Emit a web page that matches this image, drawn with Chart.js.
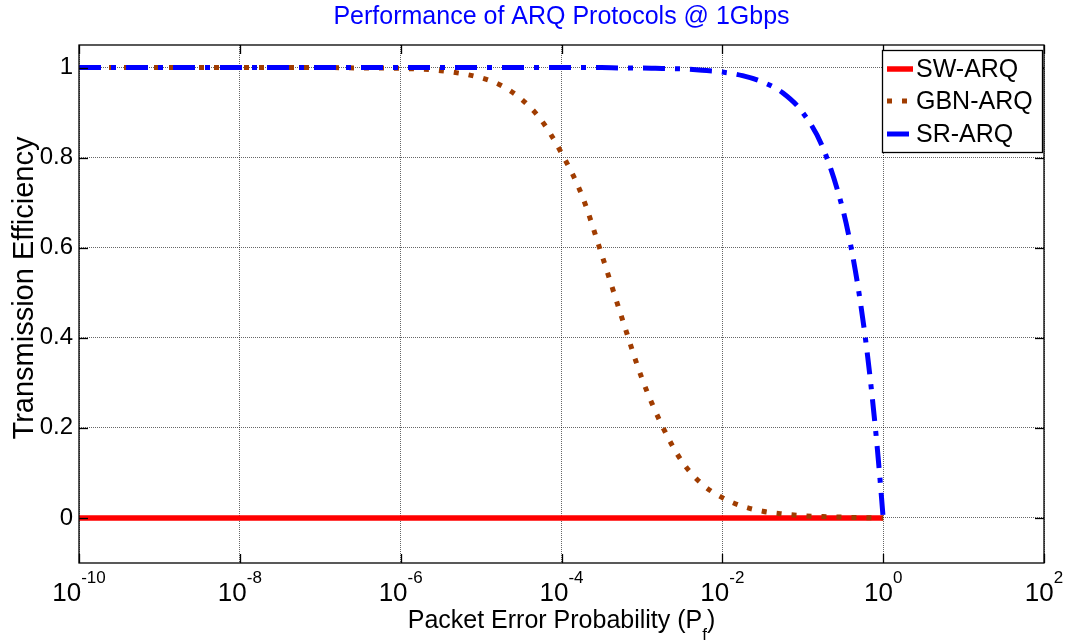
<!DOCTYPE html>
<html><head><meta charset="utf-8">
<script src="https://cdn.jsdelivr.net/npm/chart.js@4.4.0/dist/chart.umd.min.js"></script>
<style>html,body{margin:0;padding:0;background:#fff;} canvas{display:block;}</style>
</head><body>
<canvas id="c" width="1069" height="643"></canvas>
<script>
const FONT = '"Liberation Sans", Arial, Helvetica, sans-serif';

// ---- data ----
const pValues = [1e-10, 1e-9, 1e-8, 1e-7, 3.16e-7, 1e-6, 3.16e-6, 1e-5, 1.78e-5, 3.16e-5, 5.62e-5,
                 1e-4, 1.78e-4, 3.16e-4, 5.62e-4, 1e-3, 1.78e-3, 3.16e-3, 5.62e-3, 1e-2, 1.78e-2,
                 3.16e-2, 5.62e-2, 0.1, 0.178, 0.316, 0.398, 0.501, 0.631, 0.794, 0.891, 1];
const swEff  = [0, 0, 0, 0, 0, 0, 0, 0, 0, 0, 0,
                0, 0, 0, 0, 0, 0, 0, 0, 0, 0,
                0, 0, 0, 0, 0, 0, 0, 0, 0, 0, 0];
const gbnEff = [1, 1, 1, 1, 0.999, 0.998, 0.993, 0.977, 0.96, 0.93, 0.883,
                0.81, 0.718, 0.585, 0.445, 0.31, 0.205, 0.125, 0.075, 0.045, 0.026,
                0.015, 0.009, 0.005, 0.003, 0.0018, 0.0013, 0.001, 0.0007, 0.0004, 0.0002, 0];
const srEff  = [1, 1, 1, 1, 1, 1, 1, 1, 1, 1, 1,
                1, 1, 1, 0.999, 0.999, 0.998, 0.997, 0.994, 0.99, 0.982,
                0.968, 0.944, 0.9, 0.822, 0.684, 0.602, 0.499, 0.369, 0.206, 0.109, 0];

const seriesNames = ['SW-ARQ', 'GBN-ARQ', 'SR-ARQ'];
const xTickValues = [1e-10, 1e-8, 1e-6, 1e-4, 1e-2, 1, 100];
const xTickExponents = ['-10', '-8', '-6', '-4', '-2', '0', '2'];
const yTickValues = [0, 0.2, 0.4, 0.6, 0.8, 1];
const yTickLabels = ['0', '0.2', '0.4', '0.6', '0.8', '1'];
const titleText = 'Performance of ARQ Protocols @ 1Gbps';
const xTitleMain = 'Packet Error Probability (P';
const xTitleSub = 'f';
const xTitleEnd = ')';
const yTitleText = 'Transmission Efficiency';

const toPts = arr => pValues.map((p, i) => ({x: p, y: arr[i]}));

const decor = {
  id: 'decor',
  beforeDraw(chart) {
    const ctx = chart.ctx;
    ctx.save(); ctx.fillStyle = '#fff'; ctx.fillRect(0, 0, chart.width, chart.height); ctx.restore();
  },
  afterDraw(chart) {
    const {ctx, chartArea: a, scales: {x, y}} = chart;
    ctx.save();
    // axes box
    ctx.setLineDash([]);
    ctx.strokeStyle = '#000';
    ctx.lineWidth = 1.3;
    ctx.strokeRect(a.left, a.top, a.right - a.left, a.bottom - a.top);
    const line = (x1, y1, x2, y2) => { ctx.beginPath(); ctx.moveTo(x1, y1); ctx.lineTo(x2, y2); ctx.stroke(); };
    xTickValues.forEach(v => {
      const px = Math.round(x.getPixelForValue(v)) + 0.5;
      line(px, a.bottom, px, a.bottom - 9);
      line(px, a.top, px, a.top + 9);
    });
    yTickValues.forEach(v => {
      const py = Math.round(y.getPixelForValue(v)) + 0.5;
      line(a.left, py, a.left + 9, py);
      line(a.right, py, a.right - 9, py);
    });
    // x tick labels 10^n
    ctx.fillStyle = '#000';
    ctx.textBaseline = 'alphabetic';
    ctx.textAlign = 'left';
    xTickValues.forEach((v, i) => {
      const px = x.getPixelForValue(v);
      ctx.font = '26px ' + FONT;
      const w1 = ctx.measureText('10').width;
      ctx.font = '17px ' + FONT;
      const w2 = ctx.measureText(xTickExponents[i]).width;
      const start = px - (w1 + w2) / 2;
      ctx.font = '26px ' + FONT;
      ctx.fillText('10', start, 601);
      ctx.font = '17px ' + FONT;
      ctx.fillText(xTickExponents[i], start + w1, 583);
    });
    // x axis title with subscript
    ctx.font = '25px ' + FONT;
    const wm = ctx.measureText(xTitleMain).width;
    const we = ctx.measureText(xTitleEnd).width;
    ctx.font = '17px ' + FONT;
    const ws = ctx.measureText(xTitleSub).width;
    const cx = (a.left + a.right) / 2;
    let sx = cx - (wm + ws + we) / 2;
    ctx.font = '25px ' + FONT;
    ctx.fillText(xTitleMain, sx, 628);
    ctx.font = '17px ' + FONT;
    ctx.fillText(xTitleSub, sx + wm, 640);
    ctx.font = '25px ' + FONT;
    ctx.fillText(xTitleEnd, sx + wm + ws, 628);
    // chart title
    ctx.fillStyle = '#0000ff';
    ctx.textAlign = 'center';
    ctx.font = '25px ' + FONT;
    ctx.fillText(titleText, cx, 24);
    // y title
    ctx.save();
    ctx.fillStyle = '#000';
    ctx.translate(33, 288);
    ctx.rotate(-Math.PI / 2);
    ctx.font = '29px ' + FONT;
    ctx.textAlign = 'center';
    ctx.fillText(yTitleText, 0, 0);
    ctx.restore();
    // legend
    const lx = 882, ly = 50, lw = 160, lh = 102;
    ctx.fillStyle = '#fff';
    ctx.fillRect(lx, ly, lw, lh);
    ctx.strokeStyle = '#000';
    ctx.lineWidth = 1.3;
    ctx.setLineDash([]);
    ctx.strokeRect(lx + 0.5, ly + 0.5, lw, lh);
    const rows = [69, 101, 134];
    chart.data.datasets.forEach((ds, i) => {
      const ry = rows[i];
      ctx.save();
      ctx.strokeStyle = ds.borderColor;
      ctx.lineWidth = ds.borderWidth;
      ctx.setLineDash(ds.borderDash || []);
      ctx.beginPath(); ctx.moveTo(887, ry); ctx.lineTo(913, ry); ctx.stroke();
      ctx.restore();
      ctx.fillStyle = '#000';
      ctx.textAlign = 'left';
      ctx.textBaseline = 'middle';
      ctx.font = '25px ' + FONT;
      ctx.fillText(ds.label, 916, ry + 1);
    });
    ctx.restore();
  }
};

new Chart(document.getElementById('c'), {
  type: 'line',
  data: {
    datasets: [
      {label: seriesNames[0], data: toPts(swEff), borderColor: '#ff0000', borderWidth: 5.5,
       pointRadius: 0, order: 3, borderCapStyle: 'butt'},
      {label: seriesNames[1], data: toPts(gbnEff), borderColor: '#a03c00', borderWidth: 5,
       borderDash: [5, 10], pointRadius: 0, order: 2, cubicInterpolationMode: 'monotone', borderCapStyle: 'butt'},
      {label: seriesNames[2], data: toPts(srEff), borderColor: '#0000ff', borderWidth: 5,
       borderDash: [22, 10, 5, 10], pointRadius: 0, order: 1, cubicInterpolationMode: 'monotone', borderCapStyle: 'butt'}
    ]
  },
  options: {
    responsive: false,
    animation: false,
    devicePixelRatio: 1,
    layout: {padding: {left: 0, right: 25, top: 45, bottom: 0}},
    plugins: {legend: {display: false}, title: {display: false}, tooltip: {enabled: false}},
    scales: {
      x: {
        type: 'logarithmic', min: 1e-10, max: 100,
        afterBuildTicks: s => { s.ticks = xTickValues.map(v => ({value: v})); },
        afterFit: s => { s.height = 80; },
        ticks: {display: false},
        grid: {color: 'rgba(0,0,0,0.6)', lineWidth: 1, drawTicks: false},
        border: {display: false, dash: [1, 1]}
      },
      y: {
        type: 'linear', min: -0.1, max: 1.05,
        afterBuildTicks: s => { s.ticks = yTickValues.map(v => ({value: v})); },
        afterFit: s => { s.width = 79; },
        ticks: {
          font: {family: FONT, size: 24}, color: '#000', padding: 6,
          callback: v => { const i = yTickValues.indexOf(v); return i >= 0 ? yTickLabels[i] : ''; }
        },
        grid: {color: 'rgba(0,0,0,0.6)', lineWidth: 1, drawTicks: false},
        border: {display: false, dash: [1, 1]}
      }
    }
  },
  plugins: [decor]
});
</script>
</body></html>
